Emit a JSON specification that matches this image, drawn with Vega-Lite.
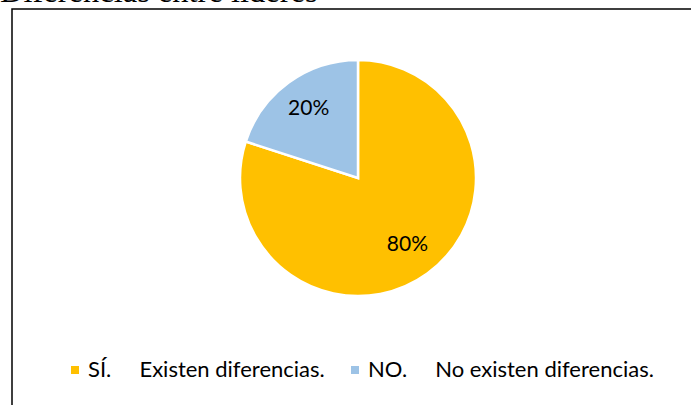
{
  "$schema": "https://vega.github.io/schema/vega-lite/v6.json",
  "autosize": {"type": "none"},
  "padding": {"left": 12, "top": 9, "right": 0, "bottom": 0},
  "width": 692,
  "height": 400,
  "background": "white",
  "view": {"stroke": "#000000", "strokeWidth": 1.5, "fill": null},
  "title": {
    "text": "Diferencias entre líderes",
    "anchor": "start",
    "frame": "group",
    "font": "Liberation Serif",
    "fontSize": 32.5,
    "fontWeight": "normal",
    "color": "#000000",
    "dx": -12,
    "offset": 0,
    "dy": -1
  },
  "config": {
    "text": {"font": "Lato"}
  },
  "data": {
    "values": [
      {"respuesta": "SÍ.\u00a0\u00a0\u00a0\u00a0\u00a0Existen diferencias.", "proporcion": 0.8, "orden": 1},
      {"respuesta": "NO.\u00a0\u00a0\u00a0\u00a0\u00a0No existen diferencias.", "proporcion": 0.2, "orden": 2}
    ]
  },
  "encoding": {
    "theta": {"field": "proporcion", "type": "quantitative", "stack": true},
    "order": {"field": "orden", "type": "quantitative"},
    "color": {
      "field": "respuesta",
      "type": "nominal",
      "sort": {"field": "orden"},
      "scale": {
        "domain": [
          "SÍ.\u00a0\u00a0\u00a0\u00a0\u00a0Existen diferencias.",
          "NO.\u00a0\u00a0\u00a0\u00a0\u00a0No existen diferencias."
        ],
        "range": ["#FFC000", "#9DC3E6"]
      },
      "legend": {
        "title": null,
        "orient": "none",
        "direction": "horizontal",
        "legendX": 52,
        "legendY": 350,
        "symbolType": "square",
        "symbolSize": 64,
        "symbolStrokeWidth": 0,
        "labelFont": "Lato",
        "labelFontSize": 22,
        "labelColor": "#000000",
        "labelOffset": 2,
        "columnPadding": 19,
        "labelLimit": 400
      }
    }
  },
  "layer": [
    {
      "mark": {"type": "arc", "outerRadius": 118, "yOffset": -31, "stroke": "#FFFFFF", "strokeWidth": 2.5}
    },
    {
      "mark": {"type": "text", "radius": 84, "yOffset": -32, "fontSize": 21, "color": "#000000"},
      "encoding": {
        "text": {"field": "proporcion", "type": "quantitative", "format": ".0%"},
        "color": {"value": "#000000"}
      }
    }
  ]
}
